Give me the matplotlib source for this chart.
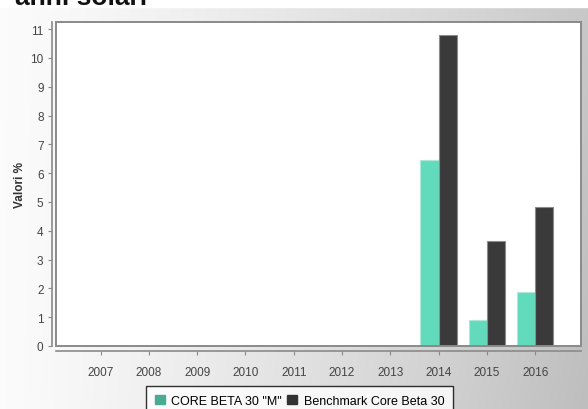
import matplotlib.pyplot as plt
import numpy as np
from matplotlib.patches import Rectangle

# dati del grafico
years = ['2007', '2008', '2009', '2010', '2011', '2012', '2013', '2014', '2015', '2016']
core = [0, 0, 0, 0, 0, 0, 0, 6.45, 0.9, 1.88]
bench = [0, 0, 0, 0, 0, 0, 0, 10.8, 3.65, 4.82]
labels = ['CORE BETA 30 "M"', 'Benchmark Core Beta 30']

W, H = 588, 410
fig = plt.figure(figsize=(W / 100, H / 100), dpi=100)
plt.rcParams['font.family'] = ['Liberation Sans', 'DejaVu Sans']

# sfondo sfumato
bg = fig.add_axes([0, 0, 1, 1], zorder=-10)
xx = np.linspace(0, 1, 300)
yy = np.linspace(0, 1, 200)
gx, gy = np.meshgrid(xx, yy)
val = 0.985 - 0.2 * gx ** 1.3 - 0.04 * gy * gx
img = np.dstack([val, val, val])
bg.imshow(img, aspect='auto', extent=[0, 1, 0, 1], origin='upper')
bg.add_patch(Rectangle((0, 1 - 8 / H), 1, 8 / H, color='white'))
bg.set_xlim(0, 1)
bg.set_ylim(0, 1)
bg.axis('off')

# titolo tagliato in alto
fig.text(15 / W, 1 - 5 / H, 'anni solari', fontsize=19, fontweight='bold',
         va='baseline', ha='left', color='#111111')

ax = fig.add_axes([56 / W, 1 - 347 / H, (581 - 56) / W, (347 - 23) / H])
ax.set_facecolor('white')
x = np.arange(len(years))
w = 0.38
ax.bar(x - w / 2, core, w, color='#62dbbd', edgecolor='#b0e8d8', linewidth=0.8, zorder=3)
ax.bar(x + w / 2, bench, w, color='#3a3a3a', edgecolor='#8c8c8c', linewidth=0.8, zorder=3)

ax.set_xlim(-0.925, 9.95)
ax.set_ylim(0, 11.25)
ax.set_yticks(range(0, 12))
ax.set_xticks(x)
ax.set_xticklabels(years)

for s in ['top', 'right']:
    ax.spines[s].set_visible(False)
ax.spines['left'].set_position(('outward', 3))
ax.spines['bottom'].set_position(('outward', 3.6))
for s in ['left', 'bottom']:
    ax.spines[s].set_color('#8a8a8a')
    ax.spines[s].set_linewidth(1.2)
ax.add_patch(Rectangle((0, 0), 1, 1, transform=ax.transAxes, fill=False,
                       edgecolor='#8a8a8a', linewidth=1.4, clip_on=False, zorder=5))

ax.tick_params(axis='both', colors='#8a8a8a', labelcolor='#444444', labelsize=8.5,
               length=3, width=0.8)
ax.tick_params(axis='x', pad=8)
ax.tick_params(axis='y', pad=3)
ax.set_ylabel('Valori %', fontsize=8.5, fontweight='bold', color='#333333', labelpad=3)

# legenda
handles = [Rectangle((0, 0), 1, 1, color='#4aaa92'), Rectangle((0, 0), 1, 1, color='#333333')]
leg = fig.legend(handles, labels, loc='upper left', bbox_to_anchor=(146 / W, 1 - 387 / H),
                 borderaxespad=0, ncol=2, fontsize=9, frameon=True, fancybox=False,
                 handlelength=0.8, handleheight=0.8, handletextpad=0.5, columnspacing=0.45,
                 borderpad=0.7)
leg.get_frame().set_edgecolor('black')
leg.get_frame().set_linewidth(1.0)

fig.savefig('out.png', dpi=100)
